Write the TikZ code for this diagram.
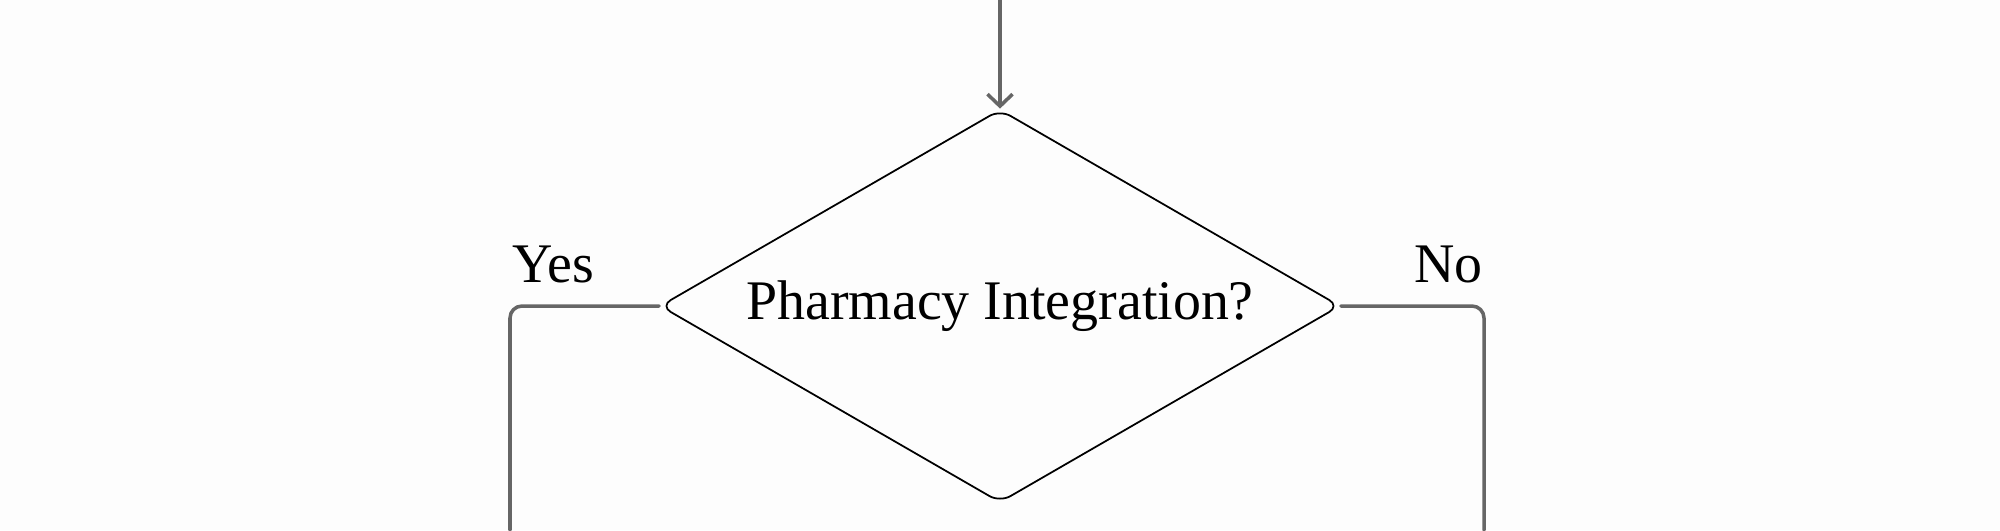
\documentclass[tikz,border=0pt]{standalone}
\usepackage{fontspec}
\setmainfont{Liberation Serif}
\usetikzlibrary{shapes.geometric,arrows.meta}
\definecolor{bgwhite}{RGB}{253,253,253}
\definecolor{flowgray}{RGB}{102,102,102}
\begin{document}
\begin{tikzpicture}[font=\fontsize{15.9}{19}\selectfont, line join=round, line cap=round,
        >={Straight Barb[length=1.2mm,width=2.5mm]},
        decision/.style={diamond, draw=black, line width=0.5pt, rounded corners=1.2mm,
            shape aspect=1.74, minimum width=6.8cm, minimum height=3.93cm, inner sep=0pt},
        flow/.style={draw=flowgray, line width=1pt, rounded corners=1.2mm},
        answer/.style={inner sep=0pt}]
            \def\xmin{0} \def\xmax{20}
            \def\ymin{0} \def\ymax{5.3}
            \fill[bgwhite] (\xmin,\ymin) rectangle (\xmax,\ymax);
            \useasboundingbox (\xmin,\ymin) rectangle (\xmax,\ymax);
            \node[decision] (pharm) at (10,2.24) {Pharmacy Integration?};
            \coordinate (entry) at (10,\ymax);
            \coordinate (yesend) at (5.10,\ymin);
            \coordinate (noend) at (14.84,\ymin);
            \draw[flow,->] (entry) -- (pharm.north);
            \draw[flow] (pharm.west) -| (yesend);
            \draw[flow] (pharm.east) -| (noend);
            \node[answer,anchor=base west] (yes) at (5.12,2.48) {Yes};
            \node[answer,anchor=base east] (no) at (14.83,2.48) {No};
        \end{tikzpicture}
\end{document}
